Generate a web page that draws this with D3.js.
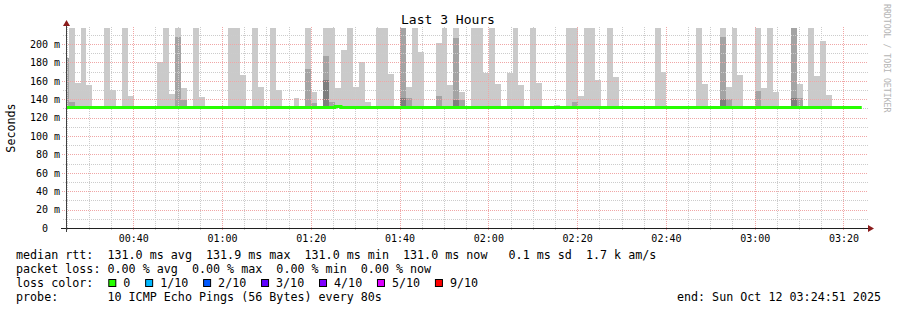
<!DOCTYPE html>
<html>
<head>
<meta charset="utf-8">
<script src="https://cdn.jsdelivr.net/npm/d3@7"></script>
<style>
  body { margin: 0; background: #fff; }
  svg { display: block; font-family: 'DejaVu Sans Mono', monospace; }
  text { white-space: pre; }
</style>
</head>
<body>
<svg id="chart" width="897" height="310"></svg>
<script>
// graph window and rrd step
const startTime = new Date(2025, 9, 12, 0, 24, 51);
const endTime = new Date(2025, 9, 12, 3, 24, 51);
const firstStep = new Date(2025, 9, 12, 0, 26, 47);
const stepSeconds = 80;

// smoke: 80 s steps (index from firstStep) with spread above the median
const OFF = 230; // ping above the top of the graph
const smokeBase = 131.0;
const smokeStep = [-2, -1, 0, 1, 2, 5, 6, 8, 9, 14, 15, 16, 17, 18, 20, 21, 26, 27, 28, 30, 31,
  33, 34, 37, 39, 40, 42, 43, 44, 45, 46, 47, 48, 49, 51, 52, 53, 55, 56, 57, 58, 61, 62, 63, 64,
  65, 66, 67, 68, 69, 70, 71, 73, 74, 75, 77, 78, 81, 83, 84, 85, 86, 87, 88, 90, 91, 98, 99,
  105, 106, 109, 110, 111, 112, 115, 116, 117, 118, 121, 122, 124, 125, 126, 127];
// 10th ping
const smokeOuter = [185, OFF, 158, OFF, 155, OFF, 149.6, OFF, 144, 180, OFF, 146, OFF, 151.7, OFF, 142, OFF, OFF, 166, OFF, 152.8,
  OFF, 149.6, 141, OFF, 147.4, OFF, OFF, 151.7, 193, OFF, 152.8, 180, 136.6, OFF, OFF, 167, OFF, 152.8, OFF, 191, 201.6, OFF, 155, OFF,
  147.4, 133, OFF, OFF, 169, OFF, 156, 169, OFF, 155, OFF, 158, 134, OFF, OFF, 143, OFF, OFF, 160.4, OFF, 163.7, OFF, 170,
  OFF, 157, OFF, 152.8, OFF, 165.9, OFF, 151.7, OFF, 147.4, OFF, 157, OFF, 164.8, 203.8, 144.2];
// 9th ping
const smokeMid = [185, 137, null, null, null, null, null, null, null, null, null, null, 208, 138.7, null, null, null, null, null, null, null,
  null, null, null, 172.4, 135.5, 187.5, 136.6, null, null, null, null, null, null, null, null, null, OFF, 141, null, null, 143, null, null, 206,
  138.7, null, null, null, null, null, null, null, null, null, null, null, null, null, 136.6, null, null, null, null, null, null, null, null,
  null, null, 208, 140, null, null, 148.5, 133, null, null, OFF, 141, null, null, null, null];
// 8th ping
const smokeInner = [null, null, null, null, null, null, null, null, null, null, null, null, null, null, null, null, null, null, null, null, null,
  null, null, null, null, null, 160.4, null, null, null, null, null, null, null, null, null, null, 141, null, null, null, null, null, null, 138.7,
  null, null, null, null, null, null, null, null, null, null, null, null, null, null, null, null, null, null, null, null, null, null, null,
  null, null, 140, null, null, null, null, null, null, null, 141, null, null, null, null, null];

// median rtt changes (step index, value), last entry is where the data ends
const medianStep = [-2, 44, 45, 133];
const medianRtt = [131.0, 132.2, 131.0, 131.0];

const yTicks = [0, 20, 40, 60, 80, 100, 120, 140, 160, 180, 200];
const yMinor = [10, 30, 50, 70, 90, 110, 130, 150, 170, 190, 210];
const xTicks = ['00:40', '01:00', '01:20', '01:40', '02:00', '02:20', '02:40', '03:00', '03:20'];

const lossLabels = ['0', '1/10', '2/10', '3/10', '4/10', '5/10', '9/10'];
const lossColors = ['#26ff00', '#00b8ff', '#0059ff', '#5e00ff', '#7e00ff', '#dd00ff', '#ff0000'];

const legendLines = [
  'median rtt:  131.0 ms avg  131.9 ms max  131.0 ms min  131.0 ms now   0.1 ms sd  1.7 k am/s',
  'packet loss: 0.00 % avg  0.00 % max  0.00 % min  0.00 % now',
  'loss color:',
  'probe:       10 ICMP Echo Pings (56 Bytes) every 80s'
];
const endLabel = 'end: Sun Oct 12 03:24:51 2025';

let svg = d3.select('#chart');

let x = d3.scaleTime().domain([startTime, endTime]).range([66, 865]);
let y = d3.scaleLinear().domain([0, 217.4]).range([228, 28]).clamp(true);

let stepTime = (k) => new Date(firstStep.getTime() + k * stepSeconds * 1000);
let parseHM = d3.timeParse('%H:%M');
let tickDate = (s) => {
  let t = parseHM(s);
  return new Date(2025, 9, 12, t.getHours(), t.getMinutes());
};

svg.append('defs').append('clipPath').attr('id', 'plot')
  .append('rect').attr('x', 67).attr('y', 28).attr('width', 798).attr('height', 200);

// smoke
let smoke = svg.append('g').attr('clip-path', 'url(#plot)').attr('shape-rendering', 'crispEdges');
let bands = [
  { values: smokeOuter, color: '#cacaca' },
  { values: smokeMid, color: '#a4a4a4' },
  { values: smokeInner, color: '#7e7e7e' }
];
for (let band of bands) {
  let rows = smokeStep.map((k, i) => ({ k: k, v: band.values[i] })).filter(d => d.v != null);
  smoke.selectAll(null)
    .data(rows)
    .enter().append('rect')
    .attr('x', d => Math.round(x(stepTime(d.k))))
    .attr('width', d => Math.round(x(stepTime(d.k + 1))) - Math.round(x(stepTime(d.k))))
    .attr('y', d => y(d.v))
    .attr('height', d => y(smokeBase) - y(d.v))
    .attr('fill', band.color);
}

// grid
let grid = svg.append('g').attr('shape-rendering', 'crispEdges').attr('stroke-dasharray', '1,1');
let minutes = d3.timeMinute.every(5).range(startTime, endTime);
grid.selectAll(null)
  .data(minutes.filter(d => d.getMinutes() % 20 !== 0))
  .enter().append('line')
  .attr('x1', d => Math.round(x(d)) + 0.5).attr('x2', d => Math.round(x(d)) + 0.5)
  .attr('y1', 27).attr('y2', 230)
  .attr('stroke', '#cccccc');
grid.selectAll(null)
  .data(yMinor)
  .enter().append('line')
  .attr('x1', 63).attr('x2', 868)
  .attr('y1', d => Math.round(y(d)) + 0.5).attr('y2', d => Math.round(y(d)) + 0.5)
  .attr('stroke', '#cccccc');
grid.selectAll(null)
  .data(xTicks.map(tickDate))
  .enter().append('line')
  .attr('x1', d => Math.round(x(d)) + 0.5).attr('x2', d => Math.round(x(d)) + 0.5)
  .attr('y1', 27).attr('y2', 231)
  .attr('stroke', '#f0a6a6');
grid.selectAll(null)
  .data(yTicks.slice(1))
  .enter().append('line')
  .attr('x1', 62).attr('x2', 868)
  .attr('y1', d => Math.round(y(d)) + 0.5).attr('y2', d => Math.round(y(d)) + 0.5)
  .attr('stroke', '#f0a6a6');

// median line
let medianLine = d3.line()
  .curve(d3.curveStepAfter)
  .x(d => x(stepTime(d.k)))
  .y(d => y(d.v));
svg.append('path')
  .datum(medianStep.map((k, i) => ({ k: k, v: medianRtt[i] })))
  .attr('clip-path', 'url(#plot)')
  .attr('fill', 'none')
  .attr('stroke', '#26ff00')
  .attr('stroke-width', 3)
  .attr('d', medianLine);

// axes lines + arrows
svg.append('line').attr('x1', 61).attr('x2', 869).attr('y1', 228.5).attr('y2', 228.5).attr('stroke', '#202020');
svg.append('line').attr('x1', 66.5).attr('x2', 66.5).attr('y1', 232).attr('y2', 25).attr('stroke', '#404040');
svg.append('path').attr('d', 'M63,26L66.5,20L70,26Z').attr('fill', '#8b1c1c');
svg.append('path').attr('d', 'M868,225L874,228.5L868,232Z').attr('fill', '#8b1c1c');

// x labels
let xAxis = d3.axisBottom(x)
  .tickValues(xTicks.map(tickDate))
  .tickFormat(d3.timeFormat('%H:%M'))
  .tickSize(0);
let gx = svg.append('g').attr('transform', 'translate(0,228)').call(xAxis);
gx.select('.domain').remove();
gx.selectAll('text')
  .attr('y', 13.5).attr('dy', 0)
  .attr('fill', '#000')
  .style('font-family', "'DejaVu Sans Mono', monospace")
  .style('font-size', '10px');

// y labels
let yAxis = d3.axisLeft(y)
  .tickValues(yTicks)
  .tickFormat(v => v === 0 ? '  0  ' : String(v).padStart(3, ' ') + ' m')
  .tickSize(0);
let gy = svg.append('g').attr('transform', 'translate(66,0)').call(yAxis);
gy.select('.domain').remove();
gy.selectAll('text')
  .attr('x', -36).attr('dy', 3.2)
  .attr('text-anchor', 'start')
  .attr('fill', '#000')
  .style('font-family', "'DejaVu Sans Mono', monospace")
  .style('font-size', '10px');

// title, vertical label, watermark
svg.append('text').attr('x', 448).attr('y', 24).attr('text-anchor', 'middle')
  .style('font-size', '13px').text('Last 3 Hours');
svg.append('text').attr('transform', 'translate(14.5,128) rotate(-90)').attr('text-anchor', 'middle')
  .style('font-size', '11.7px').text('Seconds');
svg.append('text').attr('transform', 'translate(884,4) rotate(90)')
  .attr('fill', '#b4b4b4').style('font-size', '8.2px').text('RRDTOOL / TOBI OETIKER');

// legend
let legend = svg.append('g').style('font-size', '11.7px');
legend.selectAll(null)
  .data(legendLines)
  .enter().append('text')
  .attr('x', 16)
  .attr('y', (d, i) => 258.5 + i * 14)
  .text(d => d);
legend.append('text').attr('x', 881).attr('y', 300.5).attr('text-anchor', 'end').text(endLabel);

let lx = 123.3;
lossLabels.forEach((label, i) => {
  legend.append('rect')
    .attr('x', lx - 14.5).attr('y', 279.5)
    .attr('width', 7).attr('height', 7)
    .attr('fill', lossColors[i]).attr('stroke', '#000');
  let t = legend.append('text').attr('x', lx).attr('y', 286.5).text(label);
  lx += t.node().getComputedTextLength() + 29.8;
});
</script>
</body>
</html>
